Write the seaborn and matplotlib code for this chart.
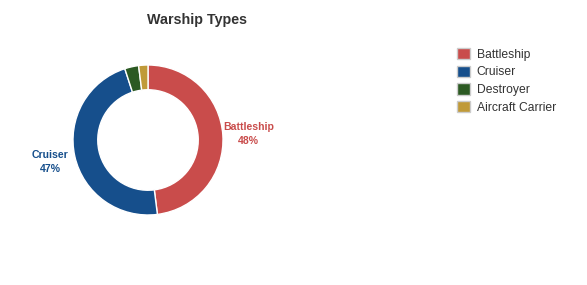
import matplotlib
matplotlib.use("Agg")
import matplotlib.pyplot as plt
import seaborn as sns
import numpy as np
from matplotlib.patches import Patch

categories = ["Battleship", "Cruiser", "Destroyer", "Aircraft Carrier"]
shares = [48, 47, 3, 2]
colors = ["#c94c4b", "#164f8c", "#2c5a23", "#c09a38"]
show_label = [True, True, False, False]

sns.set_style("white")
plt.rcParams["font.family"] = ["Liberation Sans", "DejaVu Sans"]

fig = plt.figure(figsize=(5.87, 2.85), dpi=100)
W, H = 587, 285
cx, cy, R = 148, 140, 75
ax = fig.add_axes([(cx - R) / W, (H - cy - R) / H, 2 * R / W, 2 * R / H])

palette = sns.color_palette(colors)
wedges, _ = ax.pie(shares, colors=palette, startangle=90, counterclock=False,
                   radius=1.0, wedgeprops=dict(width=0.33, edgecolor="white", linewidth=1))
ax.set_xlim(-1, 1)
ax.set_ylim(-1, 1)
ax.set_aspect("equal")
ax.axis("off")

for w, cat, val, col, show in zip(wedges, categories, shares, colors, show_label):
    if not show:
        continue
    mid = np.deg2rad((w.theta1 + w.theta2) / 2)
    r = 1.34
    ax.text(r * np.cos(mid), r * np.sin(mid), f"{cat}\n{val}%", ha="center", va="center",
            color=col, fontsize=7.6, fontweight="bold", linespacing=1.5, clip_on=False)

fig.text(197 / W, 1 - 20 / H, "Warship Types", ha="center", va="center",
         fontsize=10.3, fontweight="bold", color="#333333")

handles = [Patch(facecolor=c, edgecolor="#cccccc", linewidth=1) for c in colors]
leg = fig.legend(handles, categories, loc="upper left", bbox_to_anchor=(452 / W, 1 - 43 / H),
                 frameon=False, fontsize=8.7, labelspacing=0.42, handlelength=1.05,
                 handleheight=1.05, handletextpad=0.6, borderaxespad=0)
for t in leg.get_texts():
    t.set_color("#333333")

fig.savefig("out.png", dpi=100, facecolor="white")
